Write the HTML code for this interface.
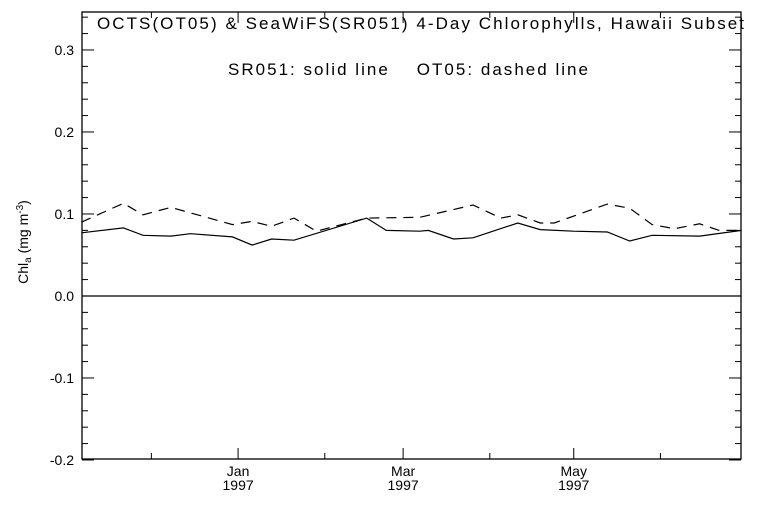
<!DOCTYPE html>
<html><head><meta charset="utf-8"><style>
html,body{margin:0;padding:0;background:#fff;}
svg text{font-family:"Liberation Sans",sans-serif;fill:#000;}
</style></head><body>
<svg id="chart" width="768" height="512" viewBox="0 0 768 512" xmlns="http://www.w3.org/2000/svg">
<text x="97" y="29" font-size="17" textLength="647" lengthAdjust="spacing">OCTS(OT05) &amp; SeaWiFS(SR051) 4-Day Chlorophylls, Hawaii Subset</text>
<text x="228" y="75" font-size="17" textLength="360" lengthAdjust="spacing" xml:space="preserve">SR051: solid line    OT05: dashed line</text>
<text transform="translate(28,242) rotate(-90)" font-size="14" text-anchor="middle">Chl<tspan font-size="10" dy="3">a</tspan><tspan dy="-3"> (mg m</tspan><tspan font-size="10" dy="-5">-3</tspan><tspan dy="5">)</tspan></text>
<g id="axes"></g>
<g id="series"></g>
</svg>
<script>
const solidDays=[-56,-41,-34,-24,-17,-2,5,12,20,46,53,65,68,77,84,100,108,120,132,140,148,165,180];
const solidVals=[0.077,0.083,0.074,0.073,0.076,0.072,0.062,0.0695,0.068,0.095,0.080,0.079,0.080,0.0695,0.071,0.089,0.081,0.079,0.078,0.067,0.074,0.073,0.080];
const dashDays=[-56,-41,-34,-24,-2,5,12,20,28,46,65,84,94,100,108,113,132,140,148,156,165,172,180];
const dashVals=[0.090,0.113,0.099,0.108,0.087,0.091,0.085,0.095,0.079,0.095,0.096,0.111,0.095,0.099,0.089,0.089,0.112,0.107,0.087,0.082,0.088,0.080,0.080];
const yTicks=[-0.2,-0.1,0.0,0.1,0.2,0.3];
const yTickLabels=["-0.2","-0.1","0.0","0.1","0.2","0.3"];
const xMajorDays=[0,59,120];
const xMajorLabels=[["Jan","1997"],["Mar","1997"],["May","1997"]];
const xMinorDays=[-31,31,90,151];

const L=82,R=741,T=12,B=459;
const xMin=-55.8,xMax=179.8,yMin=-0.1988,yMax=0.3463;
const sx=d=>L+(d-xMin)/(xMax-xMin)*(R-L);
const sy=v=>B-(v-yMin)/(yMax-yMin)*(B-T);
const NS="http://www.w3.org/2000/svg";
const ax=document.getElementById('axes'),se=document.getElementById('series');
function mk(tag,attrs,parent){const e=document.createElementNS(NS,tag);for(const k in attrs)e.setAttribute(k,attrs[k]);parent.appendChild(e);return e;}

const frame=mk('rect',{x:L,y:T,width:R-L,height:B-T,fill:'none',stroke:'#000','stroke-width':1.3},ax);



for(let i=0;i<yTicks.length;i++){
  const y=sy(yTicks[i]);
  const t1=mk('line',{x1:L,x2:L+12,y1:y,y2:y,stroke:'#000'},ax);
  
  
  mk('line',{x1:R,x2:R-12,y1:y,y2:y,stroke:'#000'},ax);
  const lb=mk('text',{x:L-8,y:y+5,'font-size':14,'text-anchor':'end'},ax);
  lb.textContent=yTickLabels[i];
  
  
  for(let k=1;k<5;k++){
    const v=yTicks[i]+k*0.02; if(v>yMax)break; const ym=sy(v);
    mk('line',{x1:L,x2:L+6,y1:ym,y2:ym,stroke:'#000'},ax);
    mk('line',{x1:R,x2:R-6,y1:ym,y2:ym,stroke:'#000'},ax);
  }
}
for(let i=0;i<xMajorDays.length;i++){
  const x=sx(xMajorDays[i]);
  const t=mk('line',{x1:x,x2:x,y1:B,y2:B-11,stroke:'#000'},ax);
  
  
  mk('line',{x1:x,x2:x,y1:T,y2:T+11,stroke:'#000'},ax);
  const lb=mk('text',{x:x,y:B+17,'font-size':14,'text-anchor':'middle'},ax);
  lb.textContent=xMajorLabels[i][0];
  
  
  const lb2=mk('text',{x:x,y:B+31,'font-size':14,'text-anchor':'middle'},ax);
  lb2.textContent=xMajorLabels[i][1];
  
  
}
for(const d of xMinorDays){
  const x=sx(d);
  mk('line',{x1:x,x2:x,y1:B,y2:B-6,stroke:'#000'},ax);
  mk('line',{x1:x,x2:x,y1:T,y2:T+6,stroke:'#000'},ax);
}
const z=mk('line',{x1:L,x2:R,y1:sy(0),y2:sy(0),stroke:'#000','stroke-width':1.2},ax);



function pts(ds,vs){return ds.map((d,i)=>sx(d).toFixed(1)+','+sy(vs[i]).toFixed(1)).join(' ');}
const s1=mk('polyline',{points:pts(solidDays,solidVals),fill:'none',stroke:'#000','stroke-width':1.2},se);


const s2=mk('polyline',{points:pts(dashDays,dashVals),fill:'none',stroke:'#000','stroke-width':1.2,'stroke-dasharray':'10,7'},se);


</script>
</body></html>
